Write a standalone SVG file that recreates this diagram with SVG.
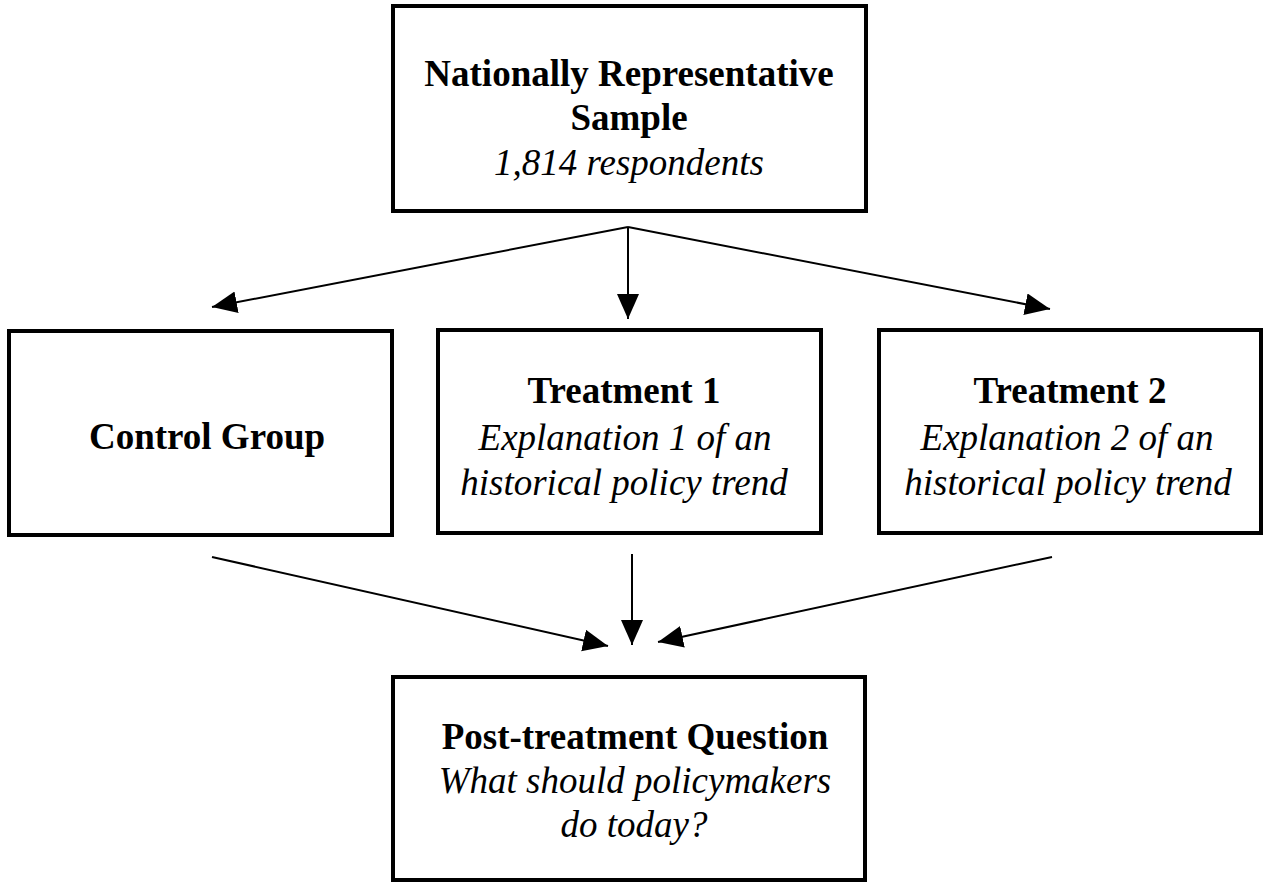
<svg xmlns="http://www.w3.org/2000/svg" width="1272" height="888" viewBox="0 0 1272 888">
  <style>
    .box { fill: #fff; stroke: #000; stroke-width: 4; }
    .b { font-family: "Liberation Serif", "Times New Roman", serif; font-weight: bold; font-size: 37px; fill: #000; text-anchor: middle; }
    .i { font-family: "Liberation Serif", "Times New Roman", serif; font-style: italic; font-size: 37px; fill: #000; text-anchor: middle; }
    .edge { stroke: #000; stroke-width: 2; fill: none; marker-end: url(#arrow); }
  </style>
  <defs>
    <marker id="arrow" markerUnits="userSpaceOnUse" markerWidth="26" markerHeight="24" refX="25" refY="11" orient="auto">
      <path d="M0,0 L25,11 L0,22 Z" fill="#000"/>
    </marker>
  </defs>
  <rect width="1272" height="888" fill="#fff"/>

  <g id="sample">
    <rect class="box" x="393" y="6" width="473" height="205"/>
    <text class="b" x="629" y="86">Nationally Representative</text>
    <text class="b" x="629" y="130">Sample</text>
    <text class="i" x="629" y="175">1,814 respondents</text>
  </g>

  <g id="control">
    <rect class="box" x="9" y="331" width="383" height="204"/>
    <text class="b" x="207" y="449">Control Group</text>
  </g>

  <g id="treatment1">
    <rect class="box" x="438" y="330" width="383" height="203"/>
    <text class="b" x="624" y="403">Treatment 1</text>
    <text class="i" x="625" y="450">Explanation 1 of an</text>
    <text class="i" x="624" y="495">historical policy trend</text>
  </g>

  <g id="treatment2">
    <rect class="box" x="879" y="330" width="382" height="203"/>
    <text class="b" x="1070" y="403">Treatment 2</text>
    <text class="i" x="1067" y="450">Explanation 2 of an</text>
    <text class="i" x="1068" y="495">historical policy trend</text>
  </g>

  <g id="question">
    <rect class="box" x="393" y="677" width="472" height="203"/>
    <text class="b" x="635" y="749">Post-treatment Question</text>
    <text class="i" x="635" y="793">What should policymakers</text>
    <text class="i" x="634" y="837">do today?</text>
  </g>

  <g id="connectors">
    <line class="edge" x1="628" y1="227" x2="212" y2="307"/>
    <line class="edge" x1="628" y1="227" x2="628" y2="319"/>
    <line class="edge" x1="628" y1="227" x2="1050" y2="309"/>
    <line class="edge" x1="212" y1="557" x2="608" y2="646"/>
    <line class="edge" x1="632" y1="554" x2="632" y2="645"/>
    <line class="edge" x1="1052" y1="557" x2="658" y2="642"/>
  </g>
</svg>
